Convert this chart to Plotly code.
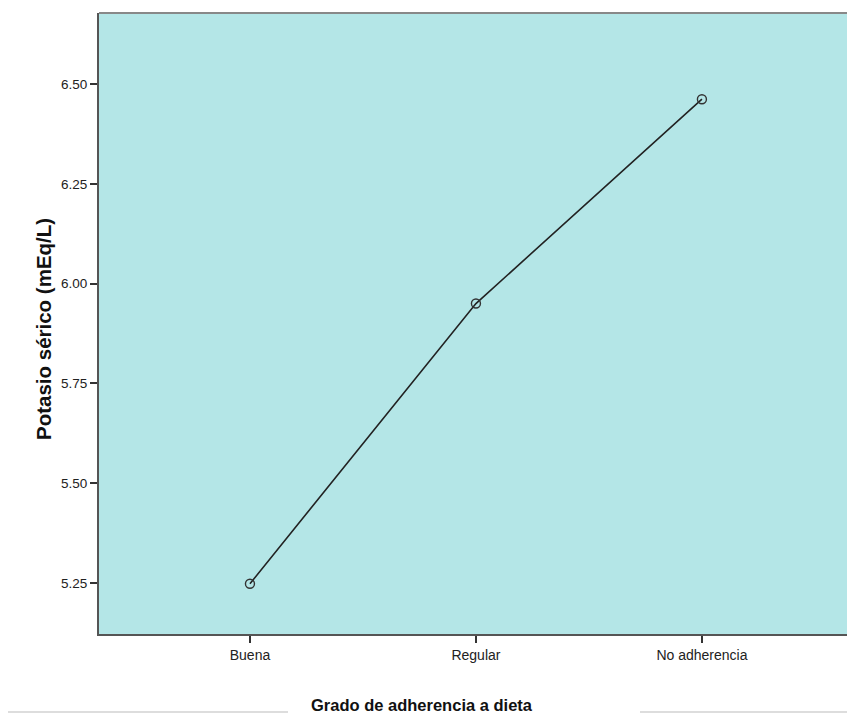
import plotly.graph_objects as go

# Mean serum potassium by diet-adherence group
categorias = ["Buena", "Regular", "No adherencia"]
potasio = [5.248, 5.950, 6.462]
y_ticks = [5.25, 5.50, 5.75, 6.00, 6.25, 6.50]
y_tick_text = ["5.25", "5.50", "5.75", "6.00", "6.25", "6.50"]

fig = go.Figure()
fig.add_trace(go.Scatter(
    x=list(range(len(categorias))),
    y=potasio,
    mode="lines+markers",
    line=dict(color="#222222", width=1.6),
    marker=dict(symbol="circle-open", size=9, color="#333333",
                line=dict(width=1.4, color="#333333")),
    showlegend=False,
    hoverinfo="skip",
))

fig.update_layout(
    width=847, height=715,
    margin=dict(l=99, r=0, t=13, b=81),
    paper_bgcolor="white",
    plot_bgcolor="#b4e6e7",
    font=dict(family="Liberation Sans, Arial, sans-serif", size=12, color="#222222"),
    xaxis=dict(
        range=[-0.668, 2.642],
        tickmode="array",
        tickvals=list(range(len(categorias))),
        ticktext=categorias,
        ticks="outside", ticklen=7, tickwidth=1.5, tickcolor="#333333",
        showgrid=False, zeroline=False,
        showline=True, linecolor="#555555", linewidth=2,
        tickfont=dict(size=14, color="#222222"),
        fixedrange=True,
    ),
    yaxis=dict(
        range=[5.122, 6.678],
        tickmode="array",
        tickvals=y_ticks,
        ticktext=y_tick_text,
        ticks="outside", ticklen=7, tickwidth=1.5, tickcolor="#333333",
        showgrid=False, zeroline=False,
        showline=True, linecolor="#555555", linewidth=2,
        tickfont=dict(size=13.5, color="#222222"),
        fixedrange=True,
    ),
    shapes=[
        # top frame edge of the plot area
        dict(type="line", xref="paper", yref="paper", x0=0, x1=1, y0=1, y1=1,
             line=dict(color="#888888", width=2)),
        # rules flanking the x-axis title
        dict(type="line", xref="paper", yref="paper",
             x0=-91 / 748, x1=189 / 748, y0=-78 / 621, y1=-78 / 621,
             line=dict(color="#bbbbbb", width=1)),
        dict(type="line", xref="paper", yref="paper",
             x0=541 / 748, x1=1, y0=-78 / 621, y1=-78 / 621,
             line=dict(color="#bbbbbb", width=1)),
    ],
    annotations=[
        dict(text="<b>Grado de adherencia a dieta</b>", xref="paper", yref="paper",
             x=(422 - 99) / 748, y=-71 / 621, xanchor="center", yanchor="middle",
             showarrow=False, font=dict(size=16.5, color="#111111")),
        dict(text="<b>Potasio sérico (mEq/L)</b>", xref="paper", yref="paper",
             x=-56 / 748, y=(634 - 329) / 621, xanchor="center", yanchor="middle",
             textangle=-90, showarrow=False, font=dict(size=20.5, color="#111111")),
    ],
)

fig.write_html("out.html")
